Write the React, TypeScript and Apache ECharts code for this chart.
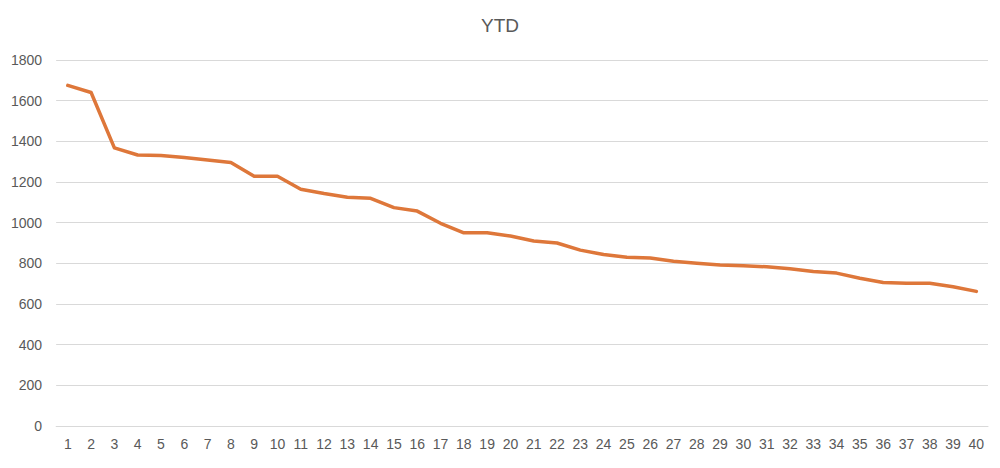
import React, { useEffect, useRef } from "react";
import * as echarts from "echarts";

const categories: string[] = Array.from({ length: 40 }, (_, i) => String(i + 1));
const ytdValues: number[] = [
  1675, 1640, 1368, 1333, 1330, 1320, 1308, 1296, 1228, 1228,
  1164, 1143, 1125, 1120, 1074, 1057, 997, 950, 950, 934,
  910, 900, 865, 843, 830, 826, 810, 800, 792, 788,
  783, 773, 760, 752, 727, 706, 702, 702, 685, 662,
];
const yTicks = { min: 0, max: 1800, interval: 200 };

export default function App() {
  const ref = useRef<HTMLDivElement>(null);
  useEffect(() => {
    if (!ref.current) return;
    const chart = echarts.init(ref.current, undefined, { renderer: "svg" });
    chart.setOption({
      animation: false,
      backgroundColor: "#ffffff",
      title: {
        text: "YTD",
        left: "center",
        top: 3,
        textStyle: {
          fontFamily: "Liberation Sans, Arial, sans-serif",
          fontSize: 19,
          fontWeight: "normal",
          color: "#595959",
        },
      },
      grid: { left: 48, right: 4, top: 52, bottom: 34 },
      xAxis: {
        type: "category",
        data: categories,
        boundaryGap: true,
        axisLine: { show: true, lineStyle: { color: "#d9d9d9", width: 1 } },
        axisTick: { show: false },
        axisLabel: {
          interval: 0,
          color: "#595959",
          fontSize: 14,
          fontFamily: "Liberation Sans, Arial, sans-serif",
          margin: 11,
        },
      },
      yAxis: {
        type: "value",
        min: yTicks.min,
        max: yTicks.max,
        interval: yTicks.interval,
        axisLine: { show: false },
        axisTick: { show: false },
        splitLine: { lineStyle: { color: "#d9d9d9", width: 1 } },
        axisLabel: {
          color: "#595959",
          fontSize: 14,
          fontFamily: "Liberation Sans, Arial, sans-serif",
          margin: 14,
          formatter: (v: number) => String(v),
        },
      },
      series: [
        {
          type: "line",
          name: "YTD",
          data: ytdValues,
          symbol: "none",
          lineStyle: { color: "#DE773A", width: 3.5, join: "round", cap: "round" },
          itemStyle: { color: "#DE773A" },
        },
      ],
    });
    return () => chart.dispose();
  }, []);
  return <div ref={ref} style={{ width: 984, height: 452 }} />;
}
